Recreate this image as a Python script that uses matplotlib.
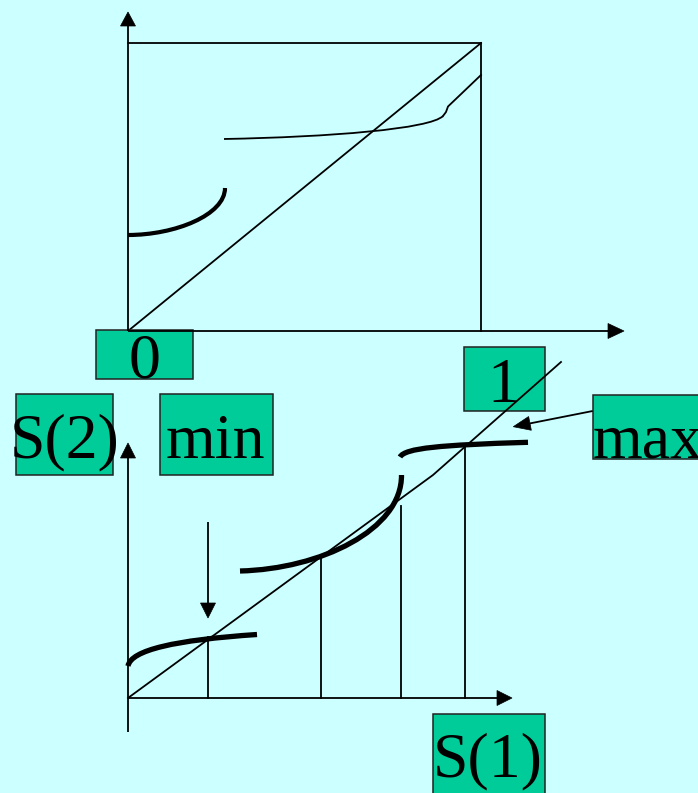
import matplotlib
matplotlib.use("Agg")
import matplotlib.pyplot as plt
from matplotlib.patches import Rectangle, Polygon, PathPatch
from matplotlib.path import Path
import numpy as np

BG = "#CCFFFF"
BOX = "#00CC99"

# ---------- data (diagram coordinates, y grows downward) ----------
# top diagram
top_origin = (128, 331)
top_corner = (481, 43)
top_yaxis_tip = 12
top_xaxis_tip = 624
# cubic Bezier control points (x, y)
top_low_ctrl = [(128, 235), (175, 235), (225, 215), (225, 188)]
top_high_ctrl = [(224, 139), (330, 137), (430, 129), (443, 116)]
top_high_tail_x = [443, 446, 448, 481]
top_high_tail_y = [116, 112, 106.5, 75]

# bottom diagram
bot_origin = (128, 698)
bot_yaxis_tip = 443
bot_yaxis_bottom = 732
bot_xaxis_tip = 512
diag_x = [128, 433, 561]
diag_y = [698, 475, 362]
seg1_ctrl = [(128, 666), (131, 650), (175, 640), (257, 634.5)]
seg2_ctrl = [(240, 571), (320, 569), (402, 530), (401.5, 475)]
seg3_ctrl = [(400, 457), (405, 448), (440, 445), (528, 442.3)]
vert_x = [208, 321, 401, 464.5]
vert_top = [637, 555, 506, 446]

# labels: text, box (x0, y0, x1, y1), text anchor x, baseline y, ha
labels = [
    ("0", (96, 330, 192.7, 379.3), 144.7, 378, "center"),
    ("1", (464, 346.7, 545, 411), 503.5, 401.7, "center"),
    ("S(2)", (16, 394.3, 112.7, 475), 10, 457.7, "left"),
    ("min", (160, 394.3, 272.7, 475), 165.5, 457.7, "left"),
    ("max", (592.7, 395, 710, 459), 593, 457, "left"),
    ("S(1)", (432.7, 714, 545, 800), 433, 776.7, "left"),
]

# ---------- figure ----------
fig = plt.figure(figsize=(6.98, 7.93), dpi=100)
fig.patch.set_facecolor(BG)
ax = fig.add_axes([0, 0, 1, 1])
ax.set_facecolor(BG)
ax.set_xlim(0, 698)
ax.set_ylim(793, 0)
ax.axis("off")

THIN = 1.3
K = "black"


def arrow(x0, y0, x1, y1, hl=15, hw=7.5, lw=THIN, z=3):
    d = np.array([x1 - x0, y1 - y0], float)
    L = np.hypot(*d)
    u = d / L
    n = np.array([-u[1], u[0]])
    base = np.array([x1, y1]) - u * hl
    ax.plot([x0, base[0]], [y0, base[1]], color=K, lw=lw, zorder=z,
            solid_capstyle="butt")
    tri = [(x1, y1), tuple(base + n * hw), tuple(base - n * hw)]
    ax.add_patch(Polygon(tri, closed=True, facecolor=K, edgecolor=K,
                         lw=0.5, zorder=z))


def bezier(ctrl, lw, z=3):
    path = Path(ctrl, [Path.MOVETO, Path.CURVE4, Path.CURVE4, Path.CURVE4])
    ax.add_patch(PathPatch(path, facecolor="none", edgecolor=K, lw=lw,
                           zorder=z, capstyle="butt"))


# top diagram
ox, oy = top_origin
cx, cy = top_corner
arrow(ox, oy, ox, top_yaxis_tip, hl=14, hw=7.5)
arrow(ox, oy, top_xaxis_tip, oy, hl=16, hw=7.5)
ax.plot([ox, cx], [cy, cy], color=K, lw=THIN)
ax.plot([cx, cx], [cy, oy], color=K, lw=THIN)
ax.plot([ox, cx], [oy, cy], color=K, lw=THIN)
bezier(top_low_ctrl, 3.0)
bezier(top_high_ctrl, THIN)
ax.plot(top_high_tail_x, top_high_tail_y, color=K, lw=THIN)

# labels (boxes under the bottom diagram lines)
for txt, (x0, y0, x1, y1), tx, ty, ha in labels:
    ax.add_patch(Rectangle((x0, y0), x1 - x0, y1 - y0, facecolor=BOX,
                           edgecolor="#222222", lw=1.1, zorder=2))
    ax.text(tx, ty, txt, fontsize=46, family="Liberation Serif",
            ha=ha, va="baseline", color=K, zorder=2.5)

# bottom diagram
bx, by = bot_origin
arrow(bx, bot_yaxis_bottom, bx, bot_yaxis_tip, hl=15, hw=7.5)
arrow(bx, by, bot_xaxis_tip, by, hl=15, hw=7.5)
ax.plot(diag_x, diag_y, color=K, lw=THIN, zorder=3)
for vx, vt in zip(vert_x, vert_top):
    ax.plot([vx, vx], [by, vt], color=K, lw=THIN, zorder=3)
arrow(208, 522, 208, 618, hl=15, hw=7.5)
arrow(592.7, 411, 513.3, 426.7, hl=17, hw=7)
for ctrl in (seg1_ctrl, seg2_ctrl, seg3_ctrl):
    bezier(ctrl, 3.8, z=4)

fig.savefig("out.png", dpi=100, facecolor=BG)
